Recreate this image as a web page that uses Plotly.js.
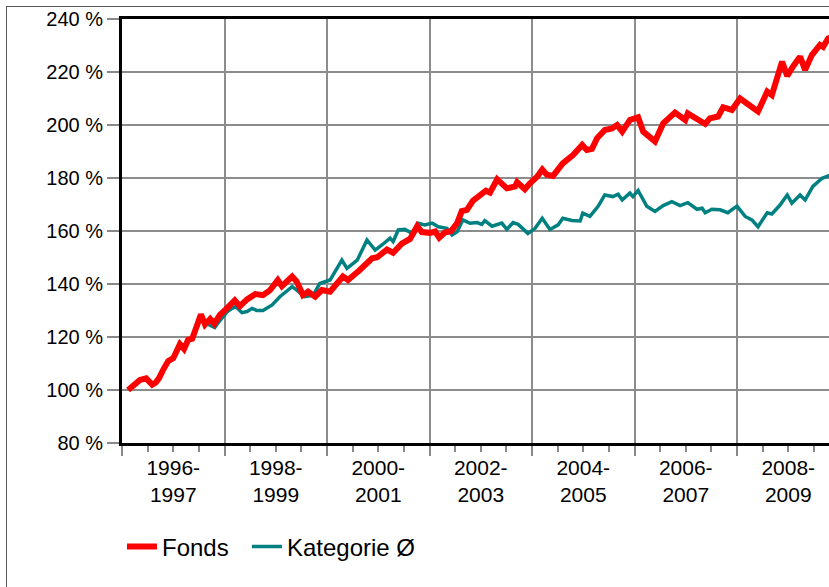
<!DOCTYPE html>
<html>
<head>
<meta charset="utf-8">
<script src="https://cdn.plot.ly/plotly-3.0.1.min.js"></script>
<style>
html,body{margin:0;padding:0;overflow:hidden;background:#fff;width:829px;height:587px;}
#frame{position:absolute;left:6px;top:6px;width:1000px;height:1000px;border-left:1px solid #555;border-top:1px solid #555;}
#chart{position:absolute;left:0;top:0;}
</style>
</head>
<body>
<div id="frame"></div>
<div id="chart"></div>
<script>
// Time in decimal years
const fondsYears = [1996.12,1996.21,1996.35,1996.47,1996.53,1996.59,1996.66,1996.72,1996.80,1996.90,1997.00,1997.13,1997.21,1997.29,1997.37,1997.46,1997.54,1997.62,1997.72,1997.80,1997.91,1998.03,1998.20,1998.30,1998.44,1998.60,1998.75,1998.89,1999.04,1999.12,1999.32,1999.41,1999.53,1999.63,1999.77,1999.90,2000.06,2000.31,2000.41,2000.64,2000.88,2000.98,2001.17,2001.29,2001.46,2001.62,2001.76,2001.85,2002.01,2002.11,2002.19,2002.30,2002.42,2002.54,2002.63,2002.73,2002.85,2002.97,2003.10,2003.18,2003.32,2003.51,2003.67,2003.71,2003.86,2003.96,2004.10,2004.20,2004.29,2004.41,2004.60,2004.80,2004.98,2005.07,2005.17,2005.27,2005.42,2005.56,2005.66,2005.76,2005.91,2006.07,2006.17,2006.40,2006.56,2006.79,2006.99,2007.04,2007.18,2007.38,2007.47,2007.63,2007.73,2007.90,2008.06,2008.41,2008.59,2008.68,2008.88,2008.98,2009.09,2009.23,2009.33,2009.46,2009.62,2009.68,2009.78,2009.89];
const fondsValues = [100.0,101.5,103.8,104.4,103.3,102.0,102.8,104.4,107.5,110.9,112.0,117.3,115.5,118.9,119.3,123.9,128.5,124.7,126.8,125.0,128.3,130.5,133.8,131.6,134.2,136.2,135.8,137.7,141.5,139.2,142.8,140.9,135.8,137.1,135.2,137.7,137.1,142.8,141.5,145.3,149.7,150.1,153.0,151.8,155.2,157.0,161.8,159.6,159.3,159.8,157.5,159.4,160.0,163.0,167.5,168.0,171.5,173.3,175.2,174.5,179.5,176.1,176.8,178.4,175.8,178.0,180.5,183.2,181.2,180.8,185.5,188.7,192.5,190.6,191.0,195.0,198.1,198.7,200.0,197.5,201.9,202.9,197.5,193.8,200.6,204.7,201.9,204.4,202.5,200.4,202.5,203.2,206.7,205.7,210.0,205.1,212.6,211.3,223.9,218.5,222.0,225.8,220.8,226.4,230.2,229.5,232.7,233.5];

const kategorieYears = [1996.12,1996.21,1996.35,1996.47,1996.53,1996.59,1996.66,1996.72,1996.80,1996.90,1997.00,1997.13,1997.21,1997.29,1997.37,1997.46,1997.54,1997.64,1997.72,1997.81,1997.91,1998.05,1998.15,1998.22,1998.34,1998.44,1998.54,1998.63,1998.75,1998.93,1999.08,1999.32,1999.41,1999.57,1999.73,1999.86,2000.06,2000.29,2000.39,2000.59,2000.78,2000.94,2001.09,2001.23,2001.29,2001.39,2001.52,2001.66,2001.78,2001.91,2002.05,2002.17,2002.34,2002.44,2002.54,2002.65,2002.79,2002.93,2003.02,2003.08,2003.22,2003.41,2003.51,2003.63,2003.73,2003.92,2004.06,2004.20,2004.35,2004.51,2004.60,2004.78,2004.94,2004.99,2005.13,2005.29,2005.42,2005.58,2005.68,2005.76,2005.91,2005.97,2006.07,2006.24,2006.40,2006.56,2006.73,2006.89,2007.04,2007.22,2007.32,2007.38,2007.51,2007.67,2007.82,2008.00,2008.16,2008.29,2008.41,2008.59,2008.68,2008.84,2008.98,2009.07,2009.23,2009.33,2009.48,2009.66,2009.78,2009.89];
const kategorieValues = [100.0,101.3,103.5,104.2,103.2,102.0,102.8,104.6,107.8,110.9,112.0,117.0,115.5,118.6,119.2,123.5,127.5,125.2,124.5,123.6,126.2,129.5,130.8,131.5,129.2,129.6,130.8,130.0,130.0,132.1,135.2,139.0,137.7,135.2,135.8,140.2,141.5,149.0,145.9,149.0,156.6,152.8,155.0,157.3,156.0,160.4,160.6,159.1,162.9,162.3,163.0,161.6,161.0,158.5,159.7,164.2,162.9,163.2,162.5,163.9,161.8,163.0,160.6,163.2,162.5,159.1,161.0,164.8,160.6,162.3,164.8,164.0,163.8,166.7,165.5,169.3,173.6,173.0,173.9,171.7,174.3,173.0,175.3,169.3,167.4,169.6,171.1,169.6,170.7,168.2,168.6,166.9,168.2,168.0,166.9,169.4,165.5,164.2,161.6,166.9,166.4,169.8,173.6,170.5,173.6,171.7,176.8,179.9,180.8,181.2];

const gridYears = [1996,1998,2000,2002,2004,2006,2008,2010];
const labelYears = [1997,1999,2001,2003,2005,2007,2009];
const labelTexts = ['1996-<br>1997','1998-<br>1999','2000-<br>2001','2002-<br>2003','2004-<br>2005','2006-<br>2007','2008-<br>2009'];
const yTicks = [80,100,120,140,160,180,200,220,240];
const yTickTexts = yTicks.map(v => v + ' %');
const baseline = 100;
const seriesNames = ['Fonds','Kategorie Ø'];

const xRange = [1996, 1996 + (870-122)/51.25];
const FONT = 'Liberation Sans, Arial, sans-serif';

const traces = [
  {x: kategorieYears, y: kategorieValues, name: seriesNames[1], type:'scatter', mode:'lines',
   line:{color:'#008080', width:3.5}, xaxis:'x', yaxis:'y', legend:'legend2'},
  {x: fondsYears, y: fondsValues, name: seriesNames[0], type:'scatter', mode:'lines',
   line:{color:'#ff0000', width:6}, xaxis:'x2', yaxis:'y', legend:'legend'}
];

const legendFont = {family:FONT, size:24, color:'#000'};
const layout = {
  width: 900, height: 587,
  margin:{l:122, r:30, t:19, b:144},
  paper_bgcolor:'rgba(0,0,0,0)', plot_bgcolor:'#fff',
  font:{family:FONT, color:'#000', size:20},
  showlegend:true,
  legend:{orientation:'h', x:0.0, xanchor:'left', y:-0.245, yanchor:'middle',
          font:legendFont, bgcolor:'rgba(0,0,0,0)'},
  legend2:{orientation:'h', x:0.167, xanchor:'left', y:-0.245, yanchor:'middle',
          font:legendFont, bgcolor:'rgba(0,0,0,0)'},
  xaxis:{range:xRange, tickmode:'array', tickvals:gridYears, showticklabels:false,
         ticks:'outside', ticklen:10, tickwidth:2, tickcolor:'#888',
         showgrid:true, gridcolor:'#8c8c8c', gridwidth:2, zeroline:false,
         showline:true, linecolor:'#000', linewidth:3, mirror:true,
         minor:{tickmode:'linear', tick0:1996, dtick:0.5, ticks:'outside', ticklen:6, tickwidth:2, tickcolor:'#888', showgrid:false}},
  xaxis2:{range:xRange, overlaying:'x', anchor:'y', side:'bottom', tickmode:'array',
          tickvals:labelYears, ticktext:labelTexts, ticks:'', showgrid:false, showline:false, zeroline:false,
          ticklabelstandoff:10, tickfont:{family:FONT, size:21, color:'#000'}},
  yaxis:{range:[80,240], tickmode:'array', tickvals:yTicks, ticktext:yTickTexts,
         ticks:'outside', ticklen:12, tickwidth:2, tickcolor:'#888',
         showgrid:true, gridcolor:'#8c8c8c', gridwidth:2, zeroline:false,
         showline:true, linecolor:'#000', linewidth:3, mirror:true,
         tickfont:{family:FONT, size:20, color:'#000'}},
  shapes:[{type:'line', xref:'paper', x0:0, x1:1, yref:'y', y0:baseline, y1:baseline,
           line:{color:'#000', width:2}, layer:'between'}]
};

Plotly.newPlot('chart', traces, layout, {staticPlot:true, displayModeBar:false});
</script>
</body>
</html>
